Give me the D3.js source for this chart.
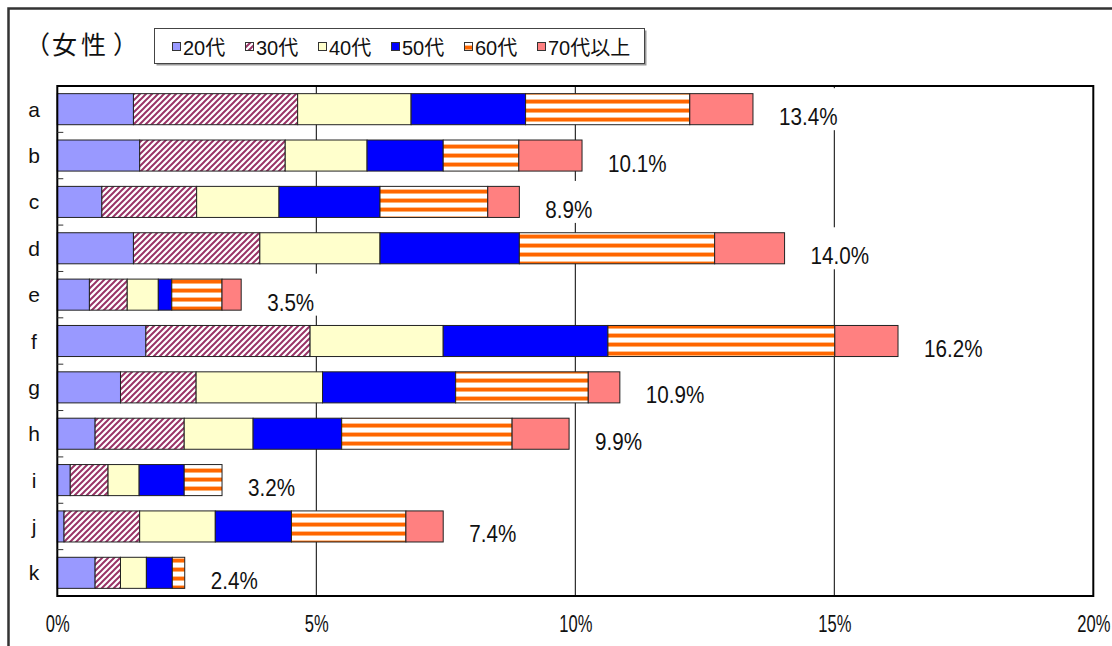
<!DOCTYPE html>
<html>
<head>
<meta charset="utf-8">
<script src="https://cdn.jsdelivr.net/npm/d3@7"></script>
<style>
  body { margin: 0; background: #fff; }
  svg { display: block; }
</style>
</head>
<body>
<script>
'use strict';

// categories (rows, top to bottom)
const categories = ['a', 'b', 'c', 'd', 'e', 'f', 'g', 'h', 'i', 'j', 'k'];
const ageGroups = ['20代', '30代', '40代', '50代', '60代', '70代以上'];

// share (%) of each age group per row
const s20 = [1.47, 1.59, 0.86, 1.47, 0.62, 1.71, 1.22, 0.73, 0.25, 0.13, 0.73];
const s30 = [3.17, 2.81, 1.83, 2.44, 0.73, 3.17, 1.46, 1.72, 0.73, 1.46, 0.49];
const s40 = [2.19, 1.58, 1.59, 2.32, 0.60, 2.57, 2.44, 1.33, 0.60, 1.46, 0.50];
const s50 = [2.21, 1.47, 1.95, 2.69, 0.26, 3.18, 2.57, 1.71, 0.87, 1.47, 0.50];
const s60 = [3.17, 1.46, 2.08, 3.77, 0.97, 4.38, 2.56, 3.29, 0.73, 2.21, 0.24];
const s70 = [1.22, 1.22, 0.61, 1.35, 0.37, 1.22, 0.61, 1.10, 0.00, 0.72, 0.00];

// total labels printed at the end of each bar
const totalLabels = ['13.4%', '10.1%', '8.9%', '14.0%', '3.5%', '16.2%', '10.9%', '9.9%', '3.2%', '7.4%', '2.4%'];

// x axis ticks (%)
const xTicks = [0, 5, 10, 15, 20];

const W = 1112, H = 646;
const plot = { left: 57.3, right: 1093.3, top: 86, bottom: 596 };
const numFont = '"Liberation Sans", Arial, sans-serif';

let svg = d3.select('body').append('svg')
  .attr('width', W)
  .attr('height', H);

// fills: plain colours and two hatch patterns
let defs = svg.append('defs');

let diag = defs.append('pattern')
  .attr('id', 'diag')
  .attr('patternUnits', 'userSpaceOnUse')
  .attr('width', 6).attr('height', 6);
diag.append('rect').attr('width', 6).attr('height', 6).attr('fill', '#fff');
diag.append('path')
  .attr('d', 'M-1.5,1.5 L1.5,-1.5 M0,6 L6,0 M4.5,7.5 L7.5,4.5')
  .attr('stroke', '#993366')
  .attr('stroke-width', 2);

let hstripe = defs.append('pattern')
  .attr('id', 'hstripe')
  .attr('patternUnits', 'userSpaceOnUse')
  .attr('width', 8).attr('height', 9);
hstripe.append('rect').attr('width', 8).attr('height', 9).attr('fill', '#fff');
hstripe.append('rect').attr('y', 0).attr('width', 8).attr('height', 1).attr('fill', '#ffc090');
hstripe.append('rect').attr('y', 1).attr('width', 8).attr('height', 3).attr('fill', '#ff6600');
hstripe.append('rect').attr('y', 4).attr('width', 8).attr('height', 1).attr('fill', '#ffb070');

const fills = ['#9999ff', 'url(#diag)', '#ffffcc', '#0000ff', 'url(#hstripe)', '#ff8080'];

// outer frame
svg.append('rect')
  .attr('x', 8.5).attr('y', 8.5)
  .attr('width', 1140).attr('height', 700)
  .attr('fill', 'none')
  .attr('stroke', '#333')
  .attr('stroke-width', 2.5);

// scales
let x = d3.scaleLinear().domain([0, 20]).range([plot.left, plot.right]);
let y = d3.scaleBand()
  .domain(categories)
  .range([plot.top, plot.bottom])
  .paddingInner(0.33)
  .paddingOuter(0.165);

// build table rows and stack them
let rows = categories.map((c, i) => {
  let r = { cat: c, label: totalLabels[i] };
  [s20, s30, s40, s50, s60, s70].forEach((s, j) => { r[ageGroups[j]] = s[i]; });
  return r;
});
let series = d3.stack().keys(ageGroups)(rows);

// vertical gridlines
svg.append('g')
  .selectAll('line')
  .data(xTicks.slice(1, -1))
  .enter()
  .append('line')
    .attr('x1', d => x(d)).attr('x2', d => x(d))
    .attr('y1', plot.top).attr('y2', plot.bottom)
    .attr('stroke', '#000')
    .attr('stroke-width', 1);

// white boxes behind the total labels (they hide the gridlines)
const labelGap = 26;
let totals = rows.map(r => d3.sum(ageGroups, k => r[k]));
svg.append('g')
  .selectAll('rect')
  .data(rows)
  .enter()
  .append('rect')
    .attr('x', (d, i) => x(totals[i]) + labelGap - 4)
    .attr('y', d => y(d.cat) + y.bandwidth() / 2 - 21)
    .attr('width', 68)
    .attr('height', 42)
    .attr('fill', '#fff');

// stacked bars
let groups = svg.append('g')
  .selectAll('g')
  .data(series)
  .enter()
  .append('g')
    .attr('fill', (d, i) => fills[i]);

groups.selectAll('rect')
  .data(d => d.filter(p => p[1] - p[0] > 0))
  .enter()
  .append('rect')
    .attr('x', d => x(d[0]))
    .attr('y', d => y(d.data.cat))
    .attr('width', d => x(d[1]) - x(d[0]))
    .attr('height', y.bandwidth())
    .attr('stroke', '#222')
    .attr('stroke-width', 1);

// total labels (condensed horizontally like the original font)
svg.append('g')
  .selectAll('text')
  .data(rows)
  .enter()
  .append('text')
    .attr('transform', (d, i) => 'translate(' + (x(totals[i]) + labelGap) + ',' +
      (y(d.cat) + y.bandwidth() / 2 + 16) + ') scale(0.86,1)')
    .style('font-family', numFont)
    .style('font-size', '24px')
    .attr('fill', '#111')
    .text(d => d.label);

// plot area border
svg.append('rect')
  .attr('x', plot.left).attr('y', plot.top)
  .attr('width', plot.right - plot.left)
  .attr('height', plot.bottom - plot.top)
  .attr('fill', 'none')
  .attr('stroke', '#000')
  .attr('stroke-width', 2);

// small ticks between categories on the left axis
let step = y.step();
svg.append('g')
  .selectAll('line')
  .data(d3.range(1, categories.length))
  .enter()
  .append('line')
    .attr('x1', plot.left).attr('x2', plot.left + 6)
    .attr('y1', k => plot.top + k * step)
    .attr('y2', k => plot.top + k * step)
    .attr('stroke', '#333')
    .attr('stroke-width', 1);

// category labels
svg.append('g')
  .selectAll('text')
  .data(categories)
  .enter()
  .append('text')
    .attr('x', 34)
    .attr('y', d => y(d) + y.bandwidth() / 2)
    .attr('text-anchor', 'middle')
    .attr('dominant-baseline', 'central')
    .style('font-family', numFont)
    .style('font-size', '21px')
    .attr('fill', '#111')
    .text(d => d);

// x axis labels
let xAxis = d3.axisBottom(x)
  .tickValues(xTicks)
  .tickSize(0)
  .tickPadding(0)
  .tickFormat(d => d + '%');
let gx = svg.append('g')
  .attr('transform', 'translate(0,' + plot.bottom + ')')
  .call(xAxis);
gx.select('.domain').remove();
gx.selectAll('text')
  .attr('y', 0)
  .attr('dy', 0)
  .attr('transform', 'translate(0,36) scale(0.72,1)')
  .style('font-family', numFont)
  .style('font-size', '23px')
  .attr('fill', '#111');

// title, one glyph per tspan to get the wide spacing of the original
let title = svg.append('text')
  .attr('y', 43)
  .attr('dominant-baseline', 'central')
  .style('font-family', '"Noto Sans CJK JP", sans-serif')
  .style('font-size', '25px')
  .attr('fill', '#111');
title.append('tspan').attr('x', 25).text('（');
title.append('tspan').attr('x', 52).text('女');
title.append('tspan').attr('x', 81).text('性');
title.append('tspan').attr('x', 113).text('）');

// legend
svg.append('rect')
  .attr('x', 156.5).attr('y', 30.5)
  .attr('width', 490).attr('height', 35)
  .attr('fill', '#999');
svg.append('rect')
  .attr('x', 154.5).attr('y', 28.5)
  .attr('width', 490).attr('height', 35)
  .attr('fill', '#fff')
  .attr('stroke', '#444')
  .attr('stroke-width', 1);

let legend = svg.append('g')
  .selectAll('g')
  .data(ageGroups)
  .enter()
  .append('g')
    .attr('transform', (d, i) => 'translate(' + (172 + i * 73) + ',0)');

legend.append('rect')
  .attr('x', 0.5).attr('y', 42.5)
  .attr('width', 8).attr('height', 8)
  .attr('fill', (d, i) => fills[i])
  .attr('stroke', '#333')
  .attr('stroke-width', 1);

legend.append('text')
  .attr('x', 11)
  .attr('y', 55)
  .style('font-family', '"Liberation Sans", "Noto Sans CJK JP", sans-serif')
  .style('font-size', '20px')
  .attr('fill', '#111')
  .text(d => d);
</script>
</body>
</html>
